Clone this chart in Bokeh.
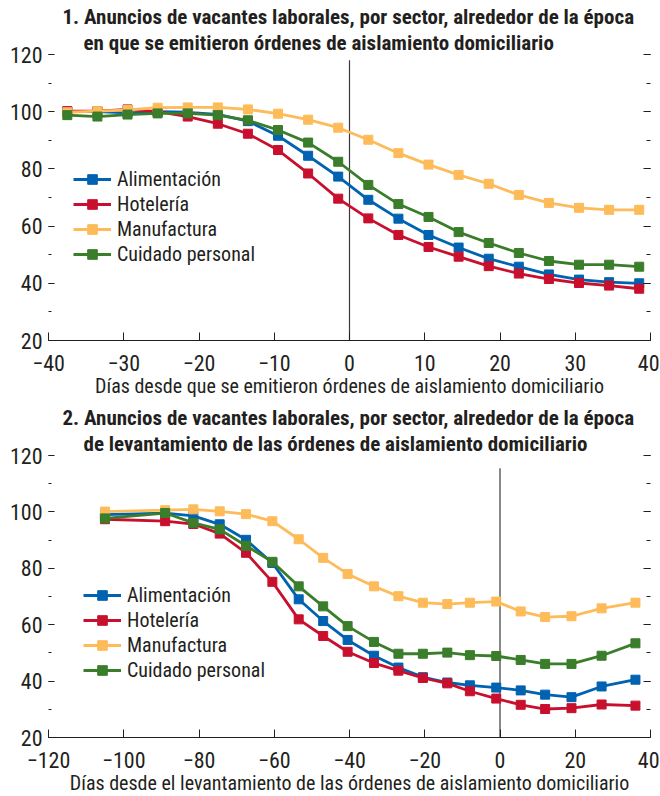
from bokeh.plotting import figure
from bokeh.layouts import column
from bokeh.models import (Legend, LegendItem, LinearAxis, SingleIntervalTicker,
                          FixedTicker, Title, Range1d)
from bokeh.embed import file_html
from bokeh.resources import INLINE

FONT = "Roboto Condensed"
TXT = "#231f20"

series_names = ["Alimentación", "Hotelería", "Manufactura", "Cuidado personal"]
colors = ["#0062b1", "#c8102e", "#fdbb5a", "#3a7d2b"]

# Panel 1
days1 = [-37.5, -33.5, -29.5, -25.5, -21.5, -17.5, -13.5, -9.5, -5.5, -1.5,
         2.5, 6.5, 10.5, 14.5, 18.5, 22.5, 26.5, 30.5, 34.5, 38.5]
alim1 = [100.0, 100.0, 99.6, 100.0, 99.8, 99.1, 96.7, 91.6, 84.6, 77.3,
         69.2, 62.6, 56.9, 52.5, 48.6, 45.8, 43.1, 41.3, 40.4, 40.0]
hot1 = [100.2, 100.2, 100.8, 100.0, 98.3, 95.8, 92.3, 86.6, 78.4, 69.6,
        62.7, 56.9, 52.7, 49.3, 46.0, 43.4, 41.5, 40.1, 39.2, 38.1]
manu1 = [99.8, 100.2, 100.6, 101.4, 101.5, 101.5, 100.8, 99.3, 97.2, 94.4,
         90.2, 85.5, 81.5, 77.9, 74.8, 70.9, 68.1, 66.4, 65.7, 65.7]
cuid1 = [98.8, 98.3, 99.0, 99.4, 99.4, 98.8, 97.0, 93.6, 89.2, 82.5,
         74.4, 67.7, 63.2, 57.9, 54.1, 50.6, 47.8, 46.5, 46.5, 45.8]
xticks1 = [-40, -30, -20, -10, 0, 10, 20, 30, 40]
xlabels1 = ["\u221240", "\u221230", "\u221220", "\u221210", "0", "10", "20", "30", "40"]
title1 = ["1. Anuncios de vacantes laborales, por sector, alrededor de la época",
          "en que se emitieron órdenes de aislamiento domiciliario"]
xlabel1 = "Días desde que se emitieron órdenes de aislamiento domiciliario"
vline1 = [0, 20, 118]

# Panel 2
days2 = [-105, -89, -81.5, -74.5, -67.5, -60.5, -53.5, -47, -40.5, -33.5,
         -27, -20.5, -14, -8, -1, 5.5, 12, 19, 27, 36]
alim2 = [99.0, 99.6, 98.6, 95.6, 90.1, 81.9, 69.0, 61.3, 54.6, 49.0,
         44.8, 41.4, 39.5, 38.5, 37.7, 36.7, 35.2, 34.3, 38.1, 40.5]
hot2 = [97.4, 96.7, 95.7, 92.3, 85.5, 75.2, 61.9, 56.0, 50.4, 46.4,
        43.7, 41.1, 39.2, 36.4, 33.8, 31.6, 30.1, 30.4, 31.7, 31.3]
manu2 = [100.1, 100.6, 100.9, 100.2, 99.2, 96.7, 90.3, 83.7, 78.0, 73.6,
         70.1, 67.8, 67.3, 67.8, 68.2, 64.7, 62.7, 63.0, 65.8, 67.8]
cuid2 = [97.7, 99.6, 96.1, 93.8, 88.0, 82.3, 73.6, 66.5, 59.5, 53.9,
         49.7, 49.7, 50.1, 49.2, 48.9, 47.5, 46.1, 46.1, 49.0, 53.4]
xticks2 = [-120, -100, -80, -60, -40, -20, 0, 20, 40]
xlabels2 = ["\u2212120", "\u2212100", "\u221280", "\u221260", "\u221240", "\u221220", "0", "20", "40"]
title2 = ["2. Anuncios de vacantes laborales, por sector, alrededor de la época",
          "de levantamiento de las órdenes de aislamiento domiciliario"]
xlabel2 = "Días desde el levantamiento de las órdenes de aislamiento domiciliario"
vline2 = [0, 20, 115.5]


def make_panel(days, series, xticks, xlabels, titles, xlabel, vline, legend_loc,
               frame_h, b_top, b_bottom):
    p = figure(width=659, frame_width=602, frame_height=frame_h,
               x_range=Range1d(xticks[0], xticks[-1]), y_range=Range1d(20, 120),
               output_backend="svg", toolbar_location=None,
               min_border_left=48, min_border_right=9, min_border_top=b_top,
               min_border_bottom=b_bottom)
    p.outline_line_color = None
    p.xgrid.grid_line_color = None
    p.ygrid.grid_line_color = None
    p.background_fill_color = "white"
    p.border_fill_color = "white"

    t2 = Title(text=titles[1], align="left", offset=35, text_font=FONT,
               text_font_size="21px", text_font_style="bold", text_color=TXT,
               standoff=0, text_line_height=0.85)
    t1 = Title(text=titles[0], align="left", offset=14, text_font=FONT,
               text_font_size="21px", text_font_style="bold", text_color=TXT,
               standoff=0, text_line_height=0.95)
    p.add_layout(t2, "above")
    p.add_layout(t1, "above")

    xa = p.xaxis[0]
    xa.ticker = FixedTicker(ticks=xticks)
    xa.major_label_overrides = {t: l for t, l in zip(xticks, xlabels)}
    xa.axis_line_color = TXT
    xa.major_tick_line_color = TXT
    xa.major_tick_in = 8
    xa.major_tick_out = 0
    xa.minor_tick_line_color = None
    xa.major_label_text_font = FONT
    xa.major_label_text_font_size = "22px"
    xa.major_label_text_color = TXT
    xa.major_label_standoff = 14
    xa.axis_label = xlabel
    xa.axis_label_text_font = FONT
    xa.axis_label_text_font_size = "20px"
    xa.axis_label_text_font_style = "normal"
    xa.axis_label_text_color = TXT
    xa.axis_label_standoff = 0

    ya = p.yaxis[0]
    ya.ticker = SingleIntervalTicker(interval=20, num_minor_ticks=2)
    ya.axis_line_color = None
    ya.major_tick_line_color = TXT
    ya.minor_tick_line_color = TXT
    ya.major_tick_in = 6
    ya.major_tick_out = 0
    ya.minor_tick_in = 3
    ya.minor_tick_out = 0
    ya.major_label_text_font = FONT
    ya.major_label_text_font_size = "22px"
    ya.major_label_text_color = TXT
    ya.major_label_standoff = 6

    ra = LinearAxis(ticker=SingleIntervalTicker(interval=20, num_minor_ticks=2))
    ra.axis_line_color = None
    ra.major_tick_line_color = TXT
    ra.minor_tick_line_color = TXT
    ra.major_tick_in = 7
    ra.major_tick_out = 0
    ra.minor_tick_in = 4
    ra.minor_tick_out = 0
    ra.major_label_text_font_size = "0px"
    ra.major_label_text_color = None
    ra.major_label_standoff = 0
    p.add_layout(ra, "right")

    p.segment(x0=[vline[0]], y0=[vline[1]], x1=[vline[0]], y1=[vline[2]],
              line_color="#3a3a3a", line_width=1.2)

    items = []
    for name, vals, col in zip(series_names, series, colors):
        l = p.line(days, vals, line_color=col, line_width=2.8)
        s = p.scatter(days, vals, marker="square", size=9, fill_color=col,
                      line_color=col)
        items.append(LegendItem(label=name, renderers=[l, s]))

    leg = Legend(items=items, location=legend_loc, padding=0, margin=0,
                 spacing=1, label_height=24, glyph_height=24, glyph_width=38,
                 label_standoff=6, label_text_font=FONT,
                 label_text_font_size="20px", label_text_color=TXT,
                 background_fill_alpha=0, border_line_color=None)
    p.add_layout(leg)
    return p


p1 = make_panel(days1, [alim1, hot1, manu1, cuid1], xticks1, xlabels1,
                title1, xlabel1, vline1, (25, 74), 286, 54, 62)
p2 = make_panel(days2, [alim2, hot2, manu2, cuid2], xticks2, xlabels2,
                title2, xlabel2, vline2, (35, 55), 282, 53, 54)

layout = column(p1, p2, spacing=0)
open("out.html", "w").write(file_html(layout, INLINE))
